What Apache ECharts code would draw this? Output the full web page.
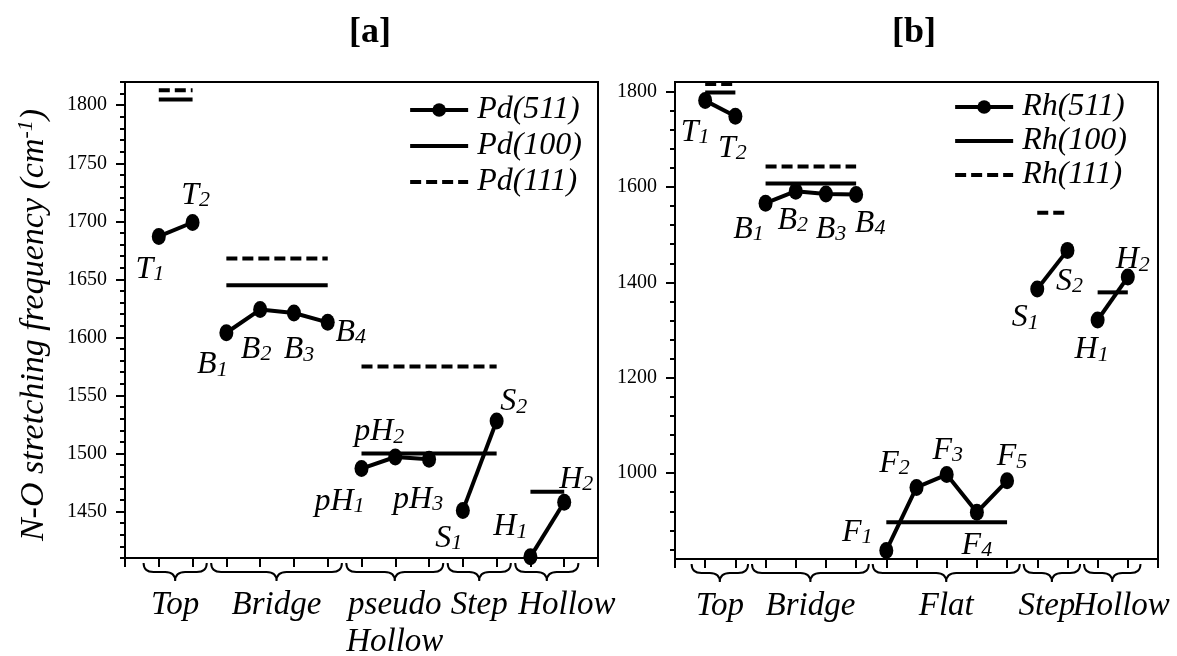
<!DOCTYPE html>
<html><head><meta charset="utf-8">
<script src="https://cdn.jsdelivr.net/npm/echarts@6/dist/echarts.min.js"></script>
<style>html,body{margin:0;padding:0;background:#fff}#c{width:1177px;height:656px}</style>
</head><body><div id="c"></div>
<script>
// ---------- Panel [a] : Pd ----------
const aSites  = ['T1','T2','B1','B2','B3','B4','pH1','pH2','pH3','S1','S2','H1','H2'];
const aPd511  = [1687,1699,1604,1624,1621,1613,1487,1497,1495,1451,1528,1411,1458];
const aGroups = [['Top','T1','T2'],['Bridge','B1','B4'],['pseudo\nHollow','pH1','pH3'],['Step','S1','S2'],['Hollow','H1','H2']];
const aPd100  = [['T1','T2',1805],['B1','B4',1645],['pH1','S2',1500],['H1','H2',1467]];
const aPd111  = [['T1','T2',1813],['B1','B4',1668],['pH1','S2',1575]];
const aYTicks = [1450,1500,1550,1600,1650,1700,1750,1800];
const aNames  = ['Pd(511)','Pd(100)','Pd(111)'];

// ---------- Panel [b] : Rh ----------
const bSites  = ['T1','T2','B1','B2','B3','B4','F1','F2','F3','F4','F5','S1','S2','H1','H2'];
const bRh511  = [1781,1748,1566,1591,1585,1584,838,970,997,918,984,1386,1467,1321,1411];
const bGroups = [['Top','T1','T2'],['Bridge','B1','B4'],['Flat','F1','F5'],['Step','S1','S2'],['Hollow','H1','H2']];
const bRh100  = [['T1','T2',1798],['B1','B4',1607],['F1','F5',897],['H1','H2',1379]];
const bRh111  = [['T1','T2',1816],['B1','B4',1643],['S1','S2',1546]];
const bYTicks = [1000,1200,1400,1600,1800];
const bNames  = ['Rh(511)','Rh(100)','Rh(111)'];

// ---------- styling (offsets in px) ----------
const aLabelOffsets = [[-9,33],[3,-27],[-14,32],[-4,40],[5,37],[23,10],[-22,33],[-16,-25],[-11,40],[-14,28],[17,-19],[-20,-30],[12,-23]];
const bLabelOffsets = [[-10,32],[-3,32],[-17,26],[-3,29],[5,35],[14,29],[-29,-18],[-22,-24],[1,-24],[0,33],[5,-24],[-12,29],[2,31],[-6,30],[5,-17]];
const aGroupTextShift = [0,0,0,0,20];
const bGroupTextShift = [0,0,0,-5,9];

const FONT = 'Liberation Serif';
const panels = [
  {sites:aSites, vals:aPd511, groups:aGroups, ref100:aPd100, ref111:aPd111, ticks:aYTicks, names:aNames,
   offs:aLabelOffsets, gshift:aGroupTextShift, ymin:1410, ymax:1820, minorStep:10, title:'[a]', titleX:365,
   grid:{left:125, right:579, top:82, bottom:98}, legendRight:590, legendTop:89, legendGap:4, yName:true},
  {sites:bSites, vals:bRh511, groups:bGroups, ref100:bRh100, ref111:bRh111, ticks:bYTicks, names:bNames,
   offs:bLabelOffsets, gshift:bGroupTextShift, ymin:820, ymax:1820, minorStep:40, title:'[b]', titleX:909,
   grid:{left:675, right:19, top:82, bottom:97}, legendRight:45, legendTop:86, legendGap:2, yName:false}
];

const rich = {
  m:{fontFamily:FONT, fontStyle:'italic', fontSize:32, lineHeight:32, verticalAlign:'top', color:'#000'},
  s:{fontFamily:FONT, fontStyle:'italic', fontSize:22, lineHeight:22, verticalAlign:'bottom', padding:[16,0,0,0], color:'#000'}
};
function labelText(name){
  const m = name.match(/^(\D+)(\d+)$/);
  return '{m|' + m[1] + '}{s|' + m[2] + '}';
}

const option = {animation:false, backgroundColor:'#fff', textStyle:{fontFamily:FONT, color:'#000'},
  title:[], grid:[], xAxis:[], yAxis:[], legend:[], series:[]};

panels.forEach((p, gi) => {
  const xOf = s => p.sites.indexOf(s) + 1;
  option.title.push({text:p.title, left:p.titleX, top:10, textAlign:'center',
    textStyle:{fontFamily:FONT, fontWeight:'bold', fontSize:36, color:'#000'}});
  option.grid.push(Object.assign({show:true, borderColor:'#000', borderWidth:2, backgroundColor:'transparent',
    containLabel:false, outerBoundsMode:'none'}, p.grid));
  option.xAxis.push({type:'value', gridIndex:gi, position:'bottom', min:0, max:p.sites.length + 1, interval:1,
    axisLine:{show:true, lineStyle:{color:'#000', width:2}},
    axisTick:{show:true, length:9, lineStyle:{color:'#000', width:2}},
    axisLabel:{show:false}, splitLine:{show:false}});
  const minor = [];
  for (let v = Math.ceil(p.ymin / p.minorStep) * p.minorStep; v <= p.ymax; v += p.minorStep) minor.push(v);
  // minor ticks axis
  option.yAxis.push({type:'value', gridIndex:gi, position:'left', min:p.ymin, max:p.ymax,
    axisLine:{show:true, lineStyle:{color:'#000', width:2}},
    axisTick:{show:true, length:5, customValues:minor, lineStyle:{color:'#000', width:2}},
    axisLabel:{show:false}, splitLine:{show:false}});
  // major ticks + labels axis
  const major = {type:'value', gridIndex:gi, position:'left', offset:0, min:p.ymin, max:p.ymax,
    axisLine:{show:false},
    axisTick:{show:true, length:9, customValues:p.ticks, lineStyle:{color:'#000', width:2}},
    axisLabel:{show:true, customValues:p.ticks, formatter:v => '{n|' + v + '}', margin:18,
      rich:{n:{fontFamily:FONT, fontSize:20, color:'#000'}}},
    splitLine:{show:false}};
  if (p.yName) {
    major.name = '{t|N-O stretching frequency (cm}{sup|-1}{t|)}';
    major.nameLocation = 'middle';
    major.nameGap = 74;
    major.nameTextStyle = {fontFamily:FONT, padding:[0,0,0,-10], rich:{
      t:{fontFamily:FONT, fontStyle:'italic', fontSize:34, lineHeight:36, verticalAlign:'bottom', color:'#000'},
      sup:{fontFamily:FONT, fontStyle:'italic', fontSize:22, lineHeight:22, verticalAlign:'top', color:'#000'}}};
  }
  option.yAxis.push(major);
  const yIdx = gi * 2;

  option.legend.push({
    data:[
      {name:p.names[0], lineStyle:{width:4}},
      {name:p.names[1], lineStyle:{width:4}, itemStyle:{color:'rgba(0,0,0,0)', borderWidth:0}},
      {name:p.names[2], lineStyle:{width:4}, itemStyle:{color:'rgba(0,0,0,0)', borderWidth:0}}
    ],
    orient:'vertical', right:p.legendRight, top:p.legendTop,
    itemWidth:58, itemHeight:17, itemGap:p.legendGap, selectedMode:false,
    textStyle:{fontFamily:FONT, fontStyle:'italic', fontSize:32, lineHeight:32, color:'#000', padding:[0,0,0,4]}});

  // measured points, one connected segment per site group
  p.groups.forEach(g => {
    const i0 = p.sites.indexOf(g[1]), i1 = p.sites.indexOf(g[2]);
    const data = [];
    for (let i = i0; i <= i1; i++) {
      data.push({value:[i + 1, p.vals[i]], name:p.sites[i], label:{offset:p.offs[i]}});
    }
    option.series.push({type:'line', name:p.names[0], xAxisIndex:gi, yAxisIndex:yIdx, data,
      symbol:'circle', symbolSize:[14,17], z:4,
      lineStyle:{color:'#000', width:4}, itemStyle:{color:'#000'},
      label:{show:true, position:'inside', formatter:q => labelText(q.name), rich},
      emphasis:{disabled:true}});
  });
  // reference lines of the low-index surfaces
  [[p.ref100, p.names[1], 'solid'], [p.ref111, p.names[2], [11,5]]].forEach(([arr, nm, tp]) => {
    arr.forEach(r => {
      option.series.push({type:'line', name:nm, xAxisIndex:gi, yAxisIndex:yIdx,
        data:[[xOf(r[0]), r[2]], [xOf(r[1]), r[2]]], symbol:'none', z:3,
        lineStyle:{color:'#000', width:4, type:tp}, itemStyle:{color:'#000'},
        emphasis:{disabled:true}, silent:true});
    });
  });
  // group braces + names under the x axis
  option.series.push({type:'custom', xAxisIndex:gi, yAxisIndex:yIdx, clip:false, silent:true, z:5,
    data:p.groups.map(g => [xOf(g[1]) - 0.45, xOf(g[2]) + 0.42, p.ymin]),
    encode:{x:[0,1], y:2},
    renderItem:(params, api) => {
      const a = api.coord([api.value(0), api.value(2)]);
      const b = api.coord([api.value(1), api.value(2)]);
      const x0 = a[0], x1 = b[0], xm = (x0 + x1) / 2;
      const y0 = a[1] + 5, ym = y0 + 9, yt = y0 + 18, r = 10;
      const d = `M${x0} ${y0} Q${x0} ${ym} ${x0 + r} ${ym} L${xm - r} ${ym} Q${xm} ${ym} ${xm} ${yt} ` +
                `Q${xm} ${ym} ${xm + r} ${ym} L${x1 - r} ${ym} Q${x1} ${ym} ${x1} ${y0}`;
      return {type:'group', children:[
        {type:'path', shape:{pathData:d}, style:{fill:'none', stroke:'#000', lineWidth:2}},
        {type:'text', style:{text:p.groups[params.dataIndex][0], x:xm + p.gshift[params.dataIndex], y:a[1] + 29,
          align:'center', verticalAlign:'top', lineHeight:37,
          font:'italic 33px "Liberation Serif"', fill:'#000'}}
      ]};
    }});
});

const chart = echarts.init(document.getElementById('c'), null, {renderer:'canvas'});
chart.setOption(option);
</script>
</body></html>
